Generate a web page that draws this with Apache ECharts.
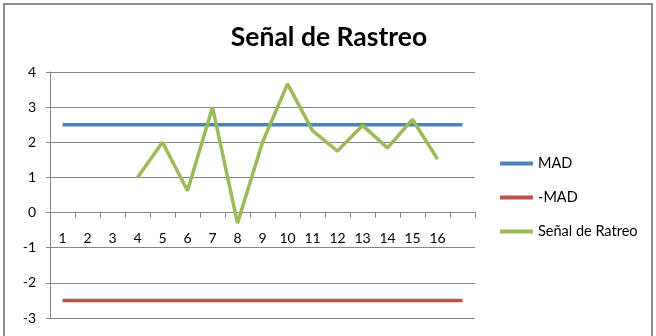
<!DOCTYPE html>
<html>
<head>
<meta charset="utf-8">
<script src="https://cdn.jsdelivr.net/npm/echarts@6/dist/echarts.min.js"></script>
<style>
  html, body { margin: 0; padding: 0; background: #ffffff; }
  #chart { width: 656px; height: 336px; }
</style>
</head>
<body>
<div id="chart"></div>
<script>
// Periods on the horizontal axis (the last slot is left unlabeled)
const periods = ['1', '2', '3', '4', '5', '6', '7', '8', '9', '10', '11', '12', '13', '14', '15', '16', ''];
// Control limits
const mad = [2.5, 2.5, 2.5, 2.5, 2.5, 2.5, 2.5, 2.5, 2.5, 2.5, 2.5, 2.5, 2.5, 2.5, 2.5, 2.5, 2.5];
const negMad = [-2.5, -2.5, -2.5, -2.5, -2.5, -2.5, -2.5, -2.5, -2.5, -2.5, -2.5, -2.5, -2.5, -2.5, -2.5, -2.5, -2.5];
// Tracking signal (starts at period 4)
const signal = [null, null, null, 1.0, 2.0, 0.62, 3.0, -0.3, 2.0, 3.66, 2.33, 1.75, 2.48, 1.84, 2.65, 1.52, null];
// Value axis range
const yMin = -3;
const yMax = 4;

const FONT = 'Lato, "Open Sans", sans-serif';
const GRID_COLOR = '#868686';
const GRID_TOP = 72;
const GRID_BOTTOM = 18;
const GRID_HEIGHT = 336 - GRID_TOP - GRID_BOTTOM;
// The category axis sits on the zero line: shift it up from the grid bottom
const zeroOffset = -GRID_HEIGHT * (0 - yMin) / (yMax - yMin);

const chart = echarts.init(document.getElementById('chart'), null, { renderer: 'canvas' });

chart.setOption({
  animation: false,
  backgroundColor: '#ffffff',
  textStyle: { fontFamily: FONT },
  title: {
    text: 'Señal de Rastreo',
    left: 324,
    textAlign: 'center',
    top: 19,
    textStyle: { fontFamily: FONT, fontSize: 26.5, fontWeight: 'bold', color: '#000000' }
  },
  graphic: [{
    type: 'rect',
    shape: { x: 4, y: 4, width: 648, height: 340 },
    style: { fill: 'none', stroke: '#8c8c8c', lineWidth: 2 },
    silent: true
  }],
  legend: {
    orient: 'vertical',
    left: 495,
    top: 151,
    itemWidth: 33,
    itemHeight: 4,
    itemGap: 19,
    icon: 'rect',
    textStyle: { fontFamily: FONT, fontSize: 14.5, color: '#000000' },
    data: ['MAD', '-MAD', 'Señal de Ratreo']
  },
  grid: { left: 50, right: 181, top: GRID_TOP, bottom: GRID_BOTTOM, containLabel: false, outerBoundsMode: 'none' },
  xAxis: {
    type: 'category',
    data: periods,
    boundaryGap: true,
    position: 'bottom',
    offset: zeroOffset,
    axisLine: { onZero: false, lineStyle: { color: GRID_COLOR, width: 1 } },
    axisTick: { show: true, length: 5, alignWithLabel: false, lineStyle: { color: GRID_COLOR } },
    axisLabel: { fontFamily: FONT, fontSize: 14, color: '#000000', margin: 19, interval: 0 },
    splitLine: { show: false }
  },
  yAxis: {
    type: 'value',
    min: yMin,
    max: yMax,
    interval: 1,
    axisLine: { show: true, lineStyle: { color: GRID_COLOR, width: 1 } },
    axisTick: { show: true, length: 4, lineStyle: { color: GRID_COLOR } },
    axisLabel: { fontFamily: FONT, fontSize: 14, color: '#000000', margin: 14 },
    splitLine: { show: true, lineStyle: { color: GRID_COLOR, width: 1 } }
  },
  series: [
    {
      name: 'MAD', type: 'line', data: mad, symbol: 'none',
      itemStyle: { color: '#4F81BD' }, lineStyle: { color: '#4F81BD', width: 3.5 }
    },
    {
      name: '-MAD', type: 'line', data: negMad, symbol: 'none',
      itemStyle: { color: '#C0504D' }, lineStyle: { color: '#C0504D', width: 3.5 }
    },
    {
      name: 'Señal de Ratreo', type: 'line', data: signal, symbol: 'none',
      connectNulls: false,
      itemStyle: { color: '#9BBB59' }, lineStyle: { color: '#9BBB59', width: 3.5 }
    }
  ]
});
</script>
</body>
</html>
